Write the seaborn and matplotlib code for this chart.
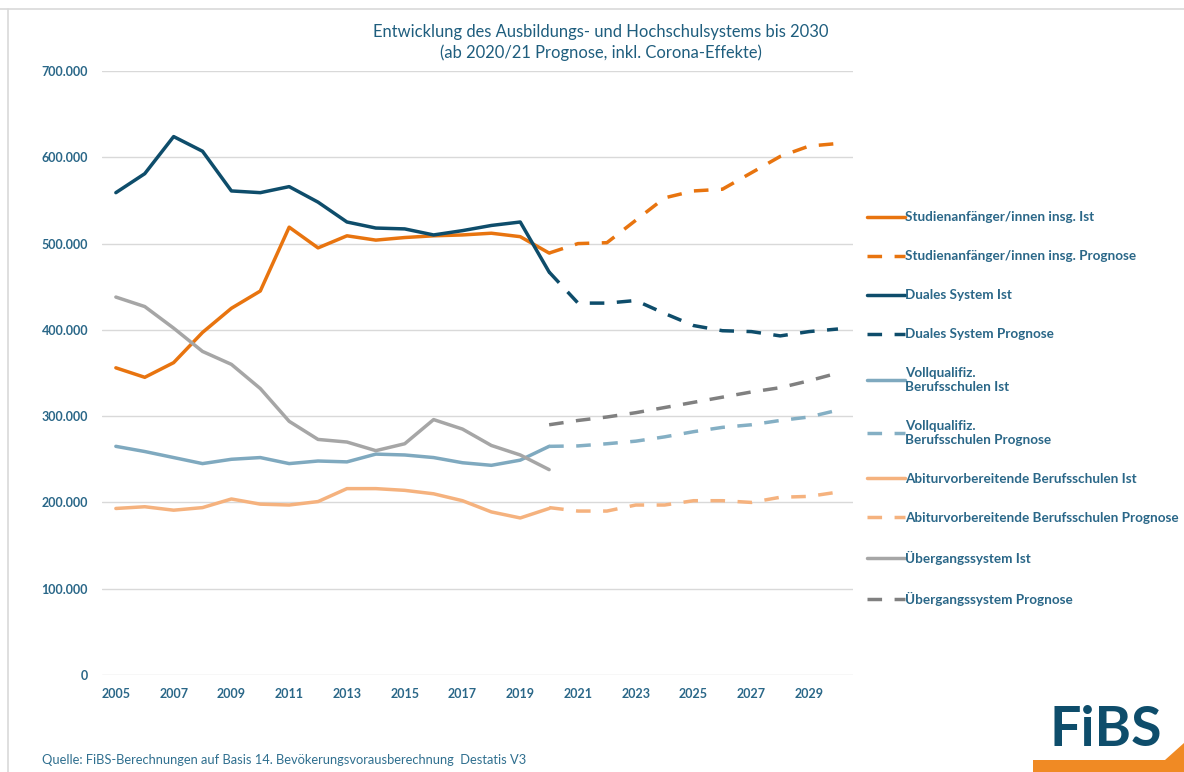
import numpy as np
import pandas as pd
import matplotlib
matplotlib.use("Agg")
import matplotlib.pyplot as plt
import seaborn as sns
from matplotlib.lines import Line2D
from matplotlib.patches import Polygon

# ---------------- data ----------------
years_ist = list(range(2005, 2021))
years_prog = list(range(2020, 2031))

studien_ist = [356, 345, 362, 397, 425, 445, 519, 495, 509, 504, 507, 509, 510, 512, 508, 489]
studien_prog = [489, 500, 501, 527, 553, 561, 563, 582, 601, 613, 616]

duales_ist = [559, 581, 624, 607, 561, 559, 566, 548, 525, 518, 517, 510, 515, 521, 525, 467]
duales_prog = [467, 431, 431, 434, 419, 405, 399, 398, 393, 398, 401]

vollq_ist = [265, 259, 252, 245, 250, 252, 245, 248, 247, 256, 255, 252, 246, 243, 249, 265]
vollq_prog = [265, 265.5, 268, 271, 276, 282, 287, 290, 295, 299, 307]

abitur_ist = [193, 195, 191, 194, 204, 198, 197, 201, 216, 216, 214, 210, 202, 189, 182, 193]
abitur_prog = [194, 190, 190, 197, 197, 202, 202, 200, 206, 207, 212]

ueber_ist = [438, 427, 402, 375, 360, 332, 294, 273, 270, 260, 268, 296, 285, 266, 255, 238]
ueber_prog = [290, 295, 299, 304, 310, 316, 322, 328, 333, 341, 350]

labels = [
    "Studienanfänger/innen insg. Ist",
    "Studienanfänger/innen insg. Prognose",
    "Duales System Ist",
    "Duales System Prognose",
    "Vollqualifiz.\nBerufsschulen Ist",
    "Vollqualifiz.\nBerufsschulen Prognose",
    "Abiturvorbereitende Berufsschulen Ist",
    "Abiturvorbereitende Berufsschulen Prognose",
    "Übergangssystem Ist",
    "Übergangssystem Prognose",
]
series_vals = [studien_ist, studien_prog, duales_ist, duales_prog, vollq_ist,
               vollq_prog, abitur_ist, abitur_prog, ueber_ist, ueber_prog]

title = "Entwicklung des Ausbildungs- und Hochschulsystems bis 2030\n(ab 2020/21 Prognose, inkl. Corona-Effekte)"
source = "Quelle: FiBS-Berechnungen auf Basis 14. Bevökerungsvorausberechnung  Destatis V3"
xticks = list(range(2005, 2030, 2))
yticks = list(range(0, 700001, 100000))

# ---------------- styles ----------------
colors = ["#E8740F", "#E8740F", "#0E4D6B", "#0E4D6B", "#7FA9BF",
          "#84AFC4", "#F5B27E", "#F5B27E", "#A6A6A6", "#808080"]
dash_pat = (4.2, 3.6)
dashes = ["", dash_pat] * 5

rows = []
for lab, vals in zip(labels, series_vals):
    yrs = years_prog if "Prognose" in lab else years_ist
    for y, v in zip(yrs, vals):
        rows.append({"Jahr": y, "Wert": v * 1000, "Serie": lab})
df = pd.DataFrame(rows)

sns.set_theme(style="white")
plt.rcParams["font.family"] = ["Lato", "DejaVu Sans"]

text_col = "#2A6788"

fig = plt.figure(figsize=(11.84, 7.72), dpi=100)
ax = fig.add_axes([102 / 1184, 1 - 675 / 772, (853 - 102) / 1184, (675 - 71) / 772])

sns.lineplot(data=df, x="Jahr", y="Wert", hue="Serie", style="Serie",
             hue_order=labels, style_order=labels,
             palette=dict(zip(labels, colors)),
             dashes=dict(zip(labels, dashes)),
             linewidth=2.5, ax=ax, legend=True, sort=True)

ax.set_xlim(2004.52, 2030.52)
ax.set_ylim(0, 700000)
ax.set_xticks(xticks)
ax.set_yticks(yticks)
ax.set_yticklabels([f"{v:,}".replace(",", ".") for v in yticks])
ax.grid(axis="y", color="#D9D9D9", linewidth=1)
ax.grid(axis="x", visible=False)
ax.set_axisbelow(True)
for s in ax.spines.values():
    s.set_visible(False)
ax.tick_params(axis="both", length=0, labelsize=9, labelcolor=text_col)
ax.tick_params(axis="y", pad=10)
ax.tick_params(axis="x", pad=9)
for t in ax.get_xticklabels() + ax.get_yticklabels():
    t.set_fontweight("bold")
ax.set_xlabel("")
ax.set_ylabel("")

handles, labs = ax.get_legend_handles_labels()
ax.get_legend().remove()
leg = fig.legend(handles, labs, loc="upper left",
                 bbox_to_anchor=(862 / 1184, 1 - 206 / 772),
                 frameon=False, handlelength=2.8, handletextpad=0.02,
                 labelspacing=2.0, prop={"size": 9.7, "weight": "bold"},
                 labelcolor=text_col, borderaxespad=0)

fig.text(601 / 1184, 1 - 24 / 772, title, ha="center", va="top",
         fontsize=11.9, color="#1F5E7E", linespacing=1.3)
fig.text(42 / 1184, 1 - 760 / 772, source, ha="left", va="center",
         fontsize=9.3, color="#2F6F8F")

# logo
fig.text(1106 / 1184, 1 - 746 / 772, "FiBS", ha="center", va="baseline",
         fontsize=40, fontweight="bold", color="#0E4D6B")
poly = [(1033, 772), (1033, 760), (1165, 760), (1184, 743), (1184, 772)]
fig.add_artist(Polygon([(x / 1184, 1 - y / 772) for x, y in poly],
                       closed=True, transform=fig.transFigure,
                       facecolor="#F08A24", edgecolor="none"))

# frame lines
fig.add_artist(Line2D([0, 1], [1 - 9 / 772, 1 - 9 / 772], transform=fig.transFigure,
                      color="#D9D9D9", linewidth=1.2))
fig.add_artist(Line2D([8 / 1184, 8 / 1184], [0, 1 - 9 / 772], transform=fig.transFigure,
                      color="#D9D9D9", linewidth=1.2))

fig.savefig("out.png", dpi=100)
